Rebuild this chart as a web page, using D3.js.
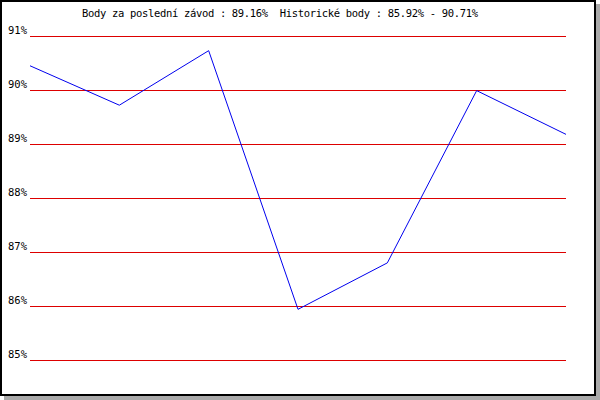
<!DOCTYPE html>
<html>
<head>
<meta charset="utf-8">
<script src="https://cdn.jsdelivr.net/npm/d3@7"></script>
<style>
  body { margin: 0; background: #fff; }
  text { font-family: "DejaVu Sans Mono", monospace; }
</style>
</head>
<body>
<svg width="600" height="400"></svg>
<script>
// data
var races = [1, 2, 3, 4, 5, 6, 7];
var points = [90.43, 89.70, 90.71, 85.92, 86.78, 89.97, 89.16];
var yTicks = [85, 86, 87, 88, 89, 90, 91];
var title = "Body za poslední závod : 89.16%  Historické body : 85.92% - 90.71%";

var svg = d3.select("svg"),
    width = +svg.attr("width"),
    height = +svg.attr("height");

// frame with shadow
svg.append("rect")
    .attr("x", 4).attr("y", 4)
    .attr("width", width - 4).attr("height", height - 4)
    .attr("fill", "#aaaaaa");
svg.append("rect")
    .attr("x", 1).attr("y", 1)
    .attr("width", width - 6).attr("height", height - 6)
    .attr("fill", "#fff")
    .attr("stroke", "#000")
    .attr("stroke-width", 2);

var x = d3.scaleLinear()
    .domain([0, races.length - 1])
    .range([30, 566]);
var y = d3.scaleLinear()
    .domain([85, 91])
    .range([359, 35]);

// y axis + red grid
var yAxis = svg.append("g")
    .attr("transform", "translate(30,0.5)")
    .call(d3.axisLeft(y)
        .tickValues(yTicks)
        .tickSize(-536)
        .tickPadding(3)
        .tickFormat(function (d) { return d + "%"; }));
yAxis.select(".domain").remove();
yAxis.selectAll("line")
    .attr("stroke", "#dd0000")
    .attr("shape-rendering", "crispEdges");
yAxis.selectAll("text")
    .attr("y", -2)
    .attr("dy", 0)
    .attr("font-size", 10.5)
    .attr("font-family", "DejaVu Sans Mono, monospace")
    .attr("fill", "#000");

// title (keep the double space)
svg.append("text")
    .attr("x", 82)
    .attr("y", 17)
    .attr("font-size", 10.5)
    .attr("textLength", 396)
    .attr("lengthAdjust", "spacing")
    .style("white-space", "pre")
    .text(title);

// line
var line = d3.line()
    .x(function (d, i) { return x(i); })
    .y(function (d) { return y(d); });
svg.append("path")
    .datum(points)
    .attr("fill", "none")
    .attr("stroke", "#0000ee")
    .attr("stroke-width", 1)
    .attr("d", line);
</script>
</body>
</html>
